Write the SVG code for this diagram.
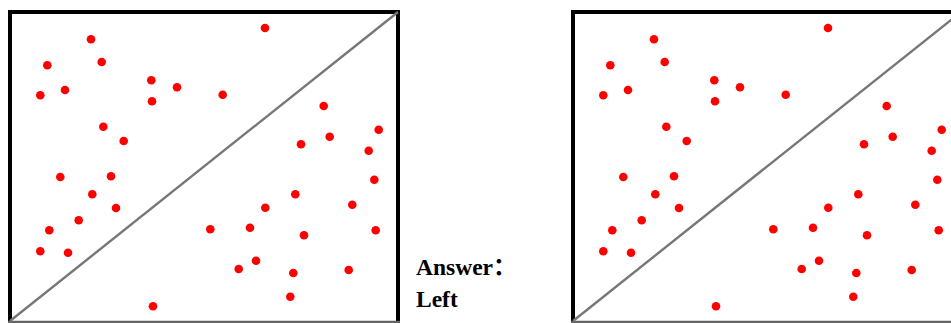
<svg xmlns="http://www.w3.org/2000/svg" xmlns:xlink="http://www.w3.org/1999/xlink" width="951" height="323" viewBox="0 0 951 323">
  <style>
    .frame { fill: none; stroke: #000; stroke-width: 4; }
    .base { stroke: #666; stroke-width: 2.5; }
    .diag { stroke: #777; stroke-width: 2.4; }
    .dot { fill: #f00; }
    .label { font-family: "Liberation Serif", "Noto Sans CJK SC", serif; font-weight: bold; font-size: 23.5px; fill: #000; }
  </style>
  <defs>
    <g id="panel">
      <path class="frame" d="M10,322 V12 H398 V322"/>
      <line class="base" x1="8" y1="322" x2="400" y2="322"/>
      <line class="diag" x1="10" y1="321" x2="398" y2="12"/>
      <g class="dot">
        <circle cx="265" cy="28" r="4.3"/>
        <circle cx="91" cy="39.3" r="4.3"/>
        <circle cx="47.3" cy="65.3" r="4.3"/>
        <circle cx="101.7" cy="62" r="4.3"/>
        <circle cx="40.3" cy="95.3" r="4.3"/>
        <circle cx="65" cy="90" r="4.3"/>
        <circle cx="151.3" cy="80.3" r="4.3"/>
        <circle cx="152" cy="101.3" r="4.3"/>
        <circle cx="177" cy="87.3" r="4.3"/>
        <circle cx="222.7" cy="94.7" r="4.3"/>
        <circle cx="103.3" cy="126.7" r="4.3"/>
        <circle cx="123.7" cy="141" r="4.3"/>
        <circle cx="323.7" cy="106" r="4.3"/>
        <circle cx="378.7" cy="129.7" r="4.3"/>
        <circle cx="329.7" cy="136.7" r="4.3"/>
        <circle cx="301" cy="144.3" r="4.3"/>
        <circle cx="368.7" cy="150.7" r="4.3"/>
        <circle cx="60.3" cy="177" r="4.3"/>
        <circle cx="111" cy="176.3" r="4.3"/>
        <circle cx="92.3" cy="194.3" r="4.3"/>
        <circle cx="116" cy="208" r="4.3"/>
        <circle cx="78.7" cy="220.3" r="4.3"/>
        <circle cx="49.3" cy="230.3" r="4.3"/>
        <circle cx="40.3" cy="251.3" r="4.3"/>
        <circle cx="68" cy="252.7" r="4.3"/>
        <circle cx="374.3" cy="179.7" r="4.3"/>
        <circle cx="295.3" cy="194.3" r="4.3"/>
        <circle cx="352.3" cy="204.7" r="4.3"/>
        <circle cx="265.3" cy="207.7" r="4.3"/>
        <circle cx="210.3" cy="229.3" r="4.3"/>
        <circle cx="250" cy="227.7" r="4.3"/>
        <circle cx="304" cy="235.3" r="4.3"/>
        <circle cx="375.7" cy="230.3" r="4.3"/>
        <circle cx="256" cy="260.7" r="4.3"/>
        <circle cx="238.7" cy="269" r="4.3"/>
        <circle cx="293.3" cy="273" r="4.3"/>
        <circle cx="348.7" cy="270" r="4.3"/>
        <circle cx="290.3" cy="296.7" r="4.3"/>
        <circle cx="153" cy="306.3" r="4.3"/>
      </g>
    </g>
  </defs>
  <rect x="0" y="0" width="951" height="323" fill="#fff"/>
  <g id="left-panel">
    <use href="#panel" xlink:href="#panel"/>
  </g>
  <g id="right-panel">
    <use href="#panel" xlink:href="#panel" transform="translate(563,0)"/>
  </g>
  <g id="answer">
    <text class="label" x="416" y="275">Answer：</text>
    <text class="label" x="416" y="307">Left</text>
  </g>
</svg>
